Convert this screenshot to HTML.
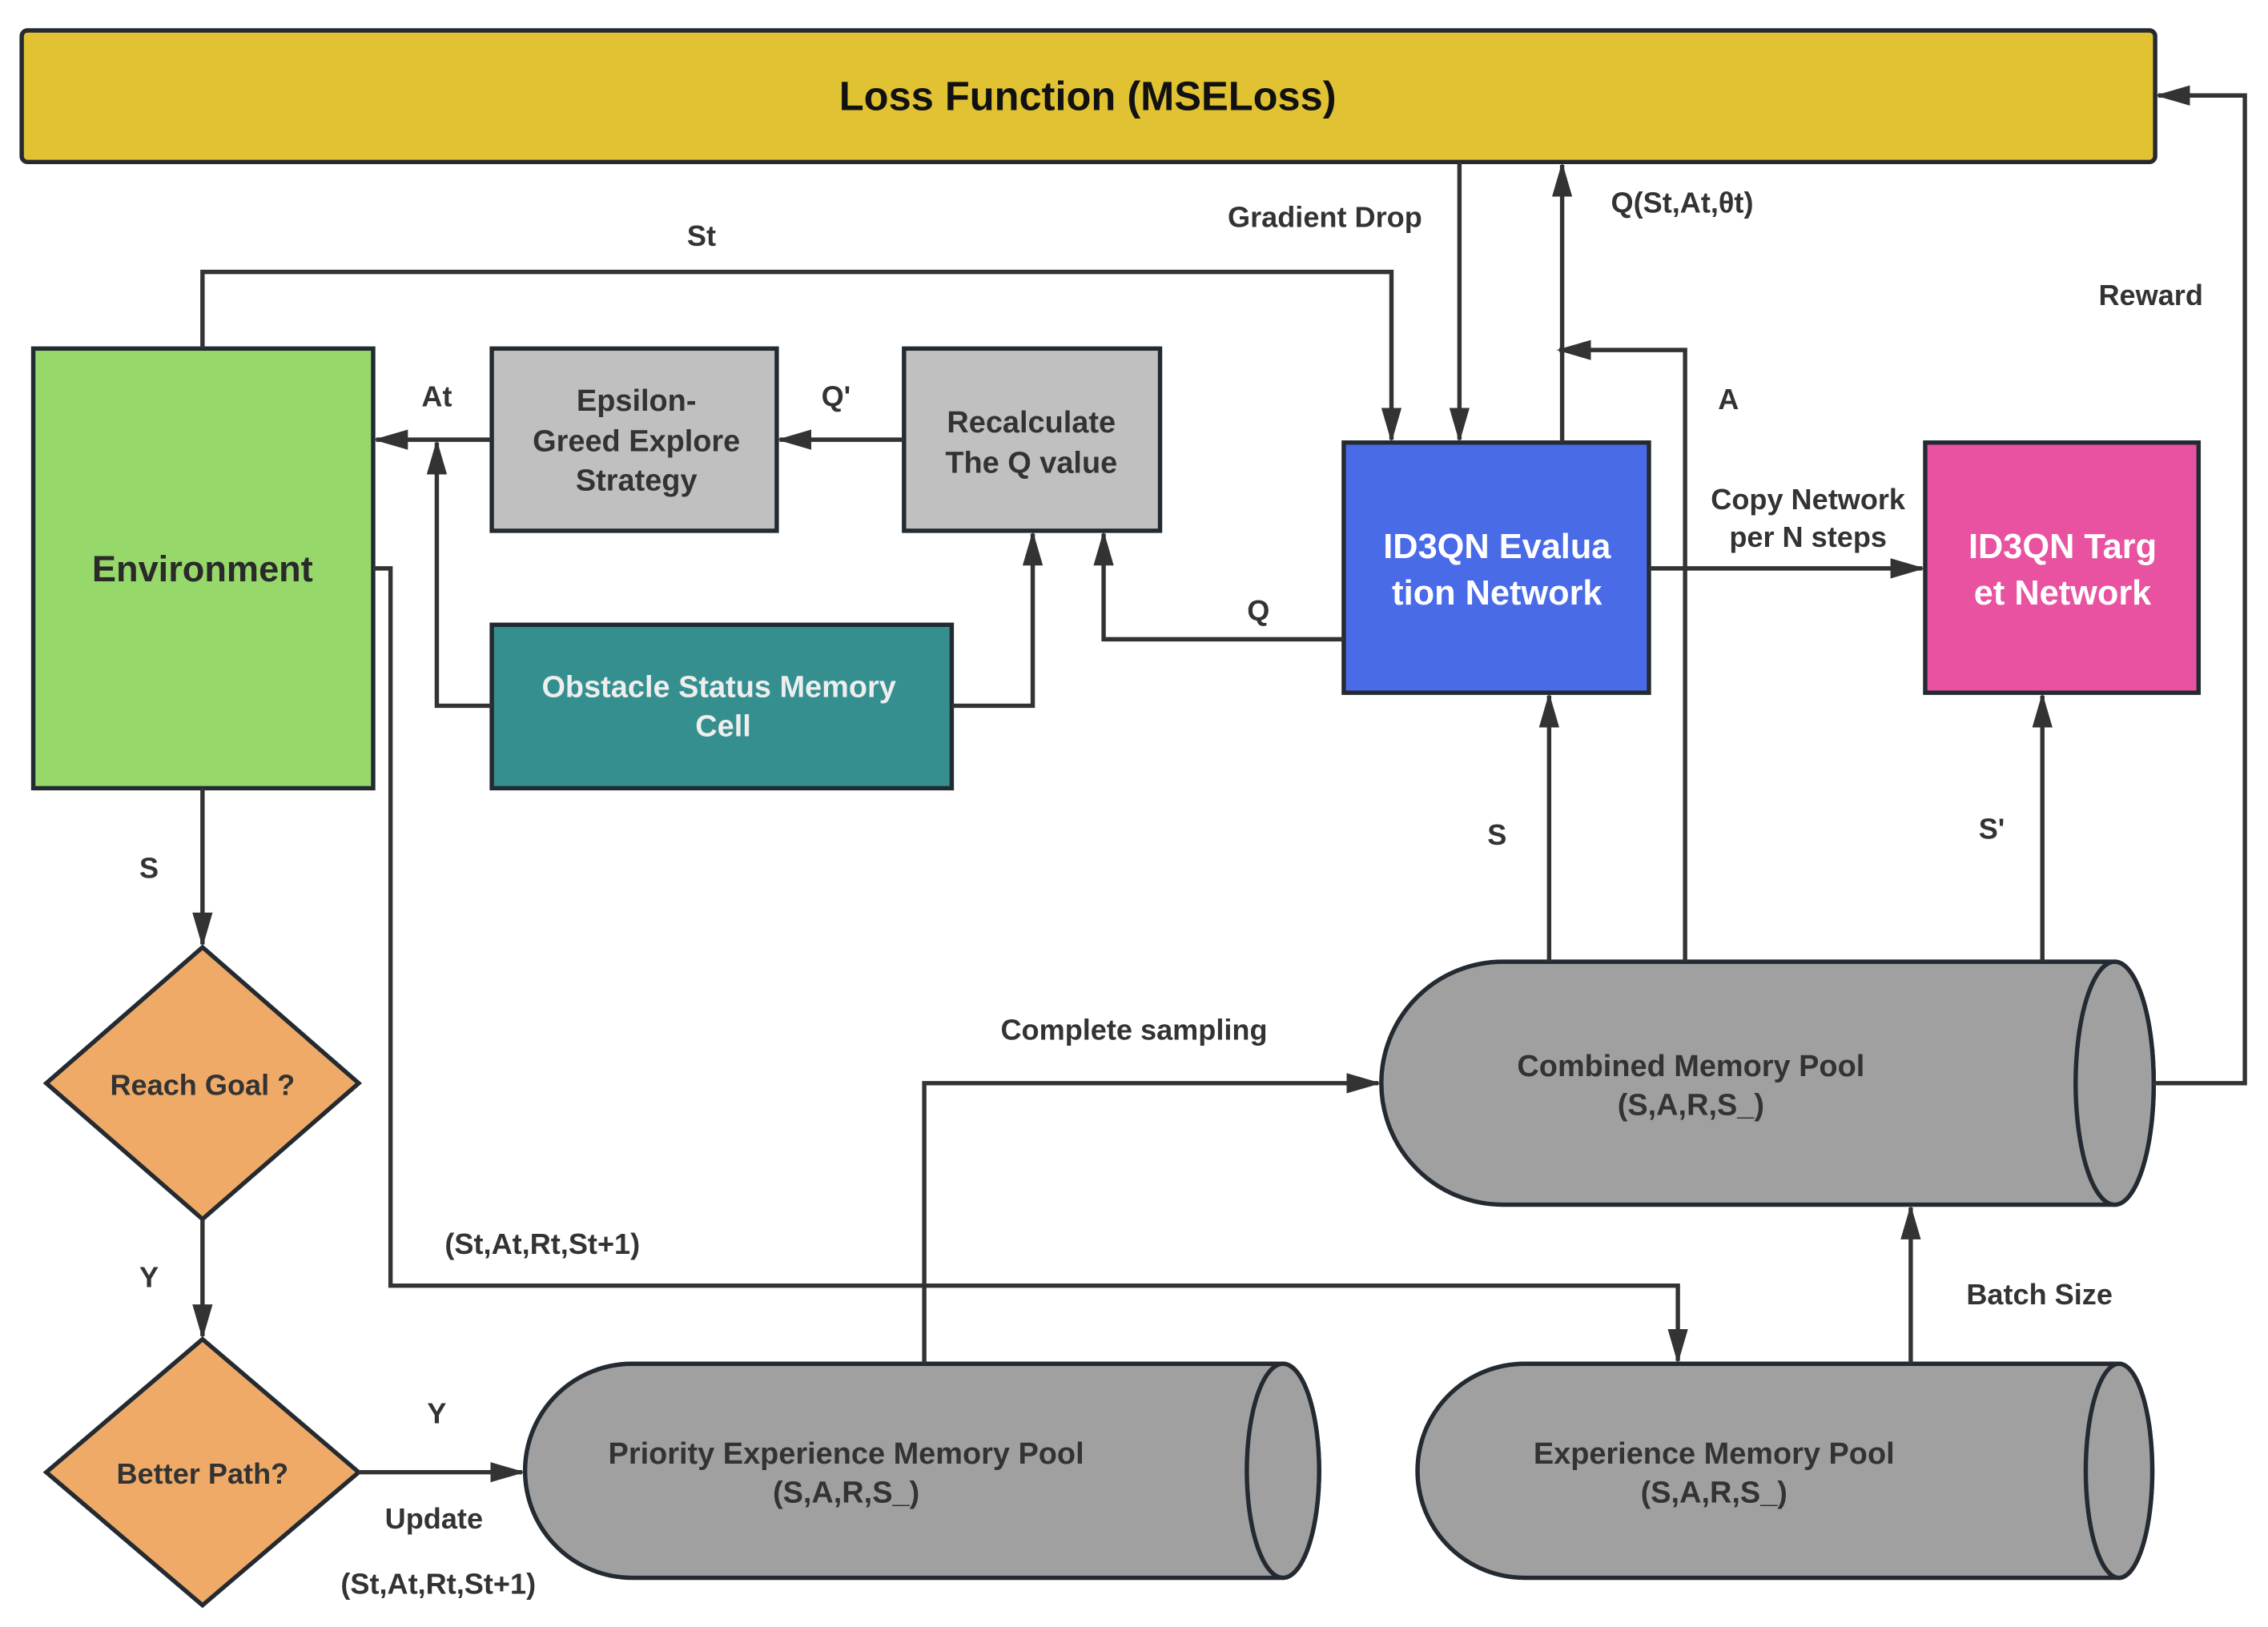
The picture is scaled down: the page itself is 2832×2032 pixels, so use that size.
<!DOCTYPE html>
<html><head><meta charset="utf-8"><style>
html,body{margin:0;padding:0;background:#fff;}
svg{display:block;}
text{font-family:"Liberation Sans",sans-serif;font-weight:bold;}
.l{font-size:20px;fill:#333;text-anchor:middle;}
.b{font-size:23px;text-anchor:middle;}
</style></head><body>
<svg width="2832" height="2032" viewBox="0 0 1568 1125" xmlns="http://www.w3.org/2000/svg">
<defs>
<marker id="a" markerWidth="24" markerHeight="14" refX="22" refY="7" orient="auto" markerUnits="userSpaceOnUse">
<path d="M0,0 L24,7 L0,14 Z" fill="#333"/>
</marker>
</defs>
<g stroke="#232a31" stroke-width="3">
<rect x="15" y="21" width="1475" height="91" rx="4" fill="#E0C232"/>
<rect x="23" y="241" width="235" height="304" fill="#96D96A"/>
<rect x="340" y="241" width="197" height="126" fill="#C0C0C0"/>
<rect x="625" y="241" width="177" height="126" fill="#C0C0C0"/>
<rect x="340" y="432" width="318" height="113" fill="#368F8F"/>
<rect x="929" y="306" width="211" height="173" fill="#4A6BE8"/>
<rect x="1331" y="306" width="189" height="173" fill="#E852A0"/>
<polygon points="140,655 248,749 140,843 32,749" fill="#F0AA68"/>
<polygon points="140,926 248,1018 140,1110 32,1018" fill="#F0AA68"/>
<!-- cylinders -->
<path d="M1039,665 L1462,665 A27,84 0 0 1 1462,833 L1039,833 A84,84 0 0 1 1039,665 Z" fill="#A0A0A0"/>
<ellipse cx="1462" cy="749" rx="27" ry="84" fill="#A0A0A0"/>
<path d="M437,943 L887,943 A25,74 0 0 1 887,1091 L437,1091 A74,74 0 0 1 437,943 Z" fill="#A0A0A0"/>
<ellipse cx="887" cy="1017" rx="25" ry="74" fill="#A0A0A0"/>
<path d="M1054,943 L1465,943 A23,74 0 0 1 1465,1091 L1054,1091 A74,74 0 0 1 1054,943 Z" fill="#A0A0A0"/>
<ellipse cx="1465" cy="1017" rx="23" ry="74" fill="#A0A0A0"/>
</g>
<g stroke="#333" stroke-width="3" fill="none">
<polyline points="140,241 140,188 962,188 962,304" marker-end="url(#a)"/>
<polyline points="1009,112 1009,304" marker-end="url(#a)"/>
<polyline points="1080,306 1080,114" marker-end="url(#a)"/>
<polyline points="1165,665 1165,242 1078,242" marker-end="url(#a)"/>
<polyline points="1488,749 1552,749 1552,66 1492,66" marker-end="url(#a)"/>
<polyline points="1140,393 1329,393" marker-end="url(#a)"/>
<polyline points="929,442 763,442 763,369" marker-end="url(#a)"/>
<polyline points="625,304 539,304" marker-end="url(#a)"/>
<polyline points="340,304 260,304" marker-end="url(#a)"/>
<polyline points="340,488 302,488 302,306" marker-end="url(#a)"/>
<polyline points="658,488 714,488 714,369" marker-end="url(#a)"/>
<polyline points="1071,665 1071,481" marker-end="url(#a)"/>
<polyline points="1412,665 1412,481" marker-end="url(#a)"/>
<polyline points="140,545 140,653" marker-end="url(#a)"/>
<polyline points="140,843 140,924" marker-end="url(#a)"/>
<polyline points="248,1018 361,1018" marker-end="url(#a)"/>
<polyline points="258,393 270,393 270,889 1160,889 1160,941" marker-end="url(#a)"/>
<polyline points="639,943 639,749 953,749" marker-end="url(#a)"/>
<polyline points="1321,943 1321,835" marker-end="url(#a)"/>
</g>
<text x="752" y="76" style="font-size:28px" text-anchor="middle" fill="#111">Loss Function (MSELoss)</text>
<text x="140" y="402" class="b" fill="#2a2a2a" style="font-size:25px">Environment</text>
<text class="b" fill="#333" style="font-size:21px"><tspan x="440" y="284">Epsilon-</tspan><tspan x="440" y="312">Greed Explore</tspan><tspan x="440" y="339">Strategy</tspan></text>
<text class="b" fill="#333" style="font-size:21px"><tspan x="713" y="299">Recalculate</tspan><tspan x="713" y="327">The Q value</tspan></text>
<text class="b" fill="#eee" style="font-size:21px"><tspan x="497" y="482">Obstacle Status Memory</tspan><tspan x="500" y="509">Cell</tspan></text>
<text class="b" fill="#fff" style="font-size:24px"><tspan x="1035" y="386">ID3QN Evalua</tspan><tspan x="1035" y="418">tion Network</tspan></text>
<text class="b" fill="#fff" style="font-size:24px"><tspan x="1426" y="386">ID3QN Targ</tspan><tspan x="1426" y="418">et Network</tspan></text>
<text x="140" y="757" class="b" fill="#333" style="font-size:20px">Reach Goal ?</text>
<text x="140" y="1026" class="b" fill="#333" style="font-size:20px">Better Path?</text>
<text class="b" fill="#333" style="font-size:21px"><tspan x="1169" y="744">Combined Memory Pool</tspan><tspan x="1169" y="771">(S,A,R,S_)</tspan></text>
<text class="b" fill="#333" style="font-size:21px"><tspan x="585" y="1012">Priority Experience Memory Pool</tspan><tspan x="585" y="1039">(S,A,R,S_)</tspan></text>
<text class="b" fill="#333" style="font-size:21px"><tspan x="1185" y="1012">Experience Memory Pool</tspan><tspan x="1185" y="1039">(S,A,R,S_)</tspan></text>
<text class="l" x="485" y="170">St</text>
<text class="l" x="916" y="157">Gradient Drop</text>
<text class="l" x="1163" y="147">Q(St,At,θt)</text>
<text class="l" x="1487" y="211">Reward</text>
<text class="l" x="1195" y="283">A</text>
<text class="l" x="302" y="281">At</text>
<text class="l" x="578" y="281">Q'</text>
<text class="l" x="1250" y="352">Copy Network</text>
<text class="l" x="1250" y="378">per N steps</text>
<text class="l" x="870" y="429">Q</text>
<text class="l" x="1035" y="584">S</text>
<text class="l" x="1377" y="580">S'</text>
<text class="l" x="103" y="607">S</text>
<text class="l" x="103" y="890">Y</text>
<text class="l" x="302" y="984">Y</text>
<text class="l" x="300" y="1057">Update</text>
<text class="l" x="303" y="1102">(St,At,Rt,St+1)</text>
<text class="l" x="375" y="867">(St,At,Rt,St+1)</text>
<text class="l" x="784" y="719">Complete sampling</text>
<text class="l" x="1410" y="902">Batch Size</text>
</svg>
</body></html>
